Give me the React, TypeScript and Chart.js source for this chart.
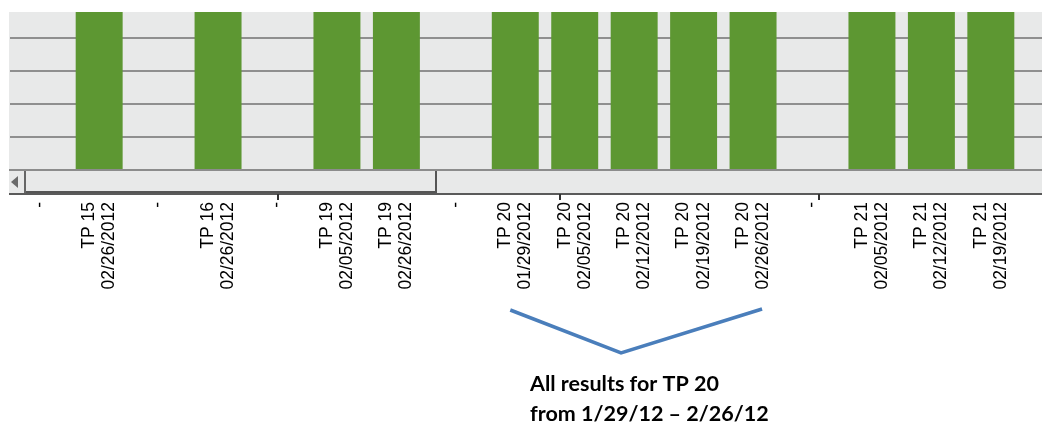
import { useEffect, useRef } from "react";
import { Chart, registerables } from "chart.js";

Chart.register(...registerables);

// ---- data ----
const tpNames = ["", "TP 15", "", "TP 16", "", "TP 19", "TP 19", "", "TP 20", "TP 20", "TP 20", "TP 20", "TP 20", "", "TP 21", "TP 21", "TP 21", ""];
const resultDates = ["", "02/26/2012", "", "02/26/2012", "", "02/05/2012", "02/26/2012", "", "01/29/2012", "02/05/2012", "02/12/2012", "02/19/2012", "02/26/2012", "", "02/05/2012", "02/12/2012", "02/19/2012", ""];
// bars run past the visible top of the (cropped) plot
const resultValues = [null, 5, null, 5, null, 5, 5, null, 5, 5, 5, 5, 5, null, 5, 5, 5, null];
const yTickValues = [0, 1, 2, 3, 4];
const yMax = 4.8;
const bracketFirstIndex = 8;
const bracketLastIndex = 12;
const annotationLines = ["All results for TP 20", "from 1/29/12 \u2013 2/26/12"];

const BAR_GREEN = "#5D9732";
const PLOT_GREY = "#E8E9E9";

const categoryLabels = tpNames.map((tp, i) => (tp ? [tp, resultDates[i]] : ["", "-"]));

const plotBackground = {
  id: "plotBackground",
  beforeDraw(chart: any) {
    const { ctx, chartArea } = chart;
    ctx.save();
    ctx.fillStyle = PLOT_GREY;
    ctx.fillRect(9, chartArea.top, chartArea.right - 9, chartArea.bottom - chartArea.top);
    ctx.restore();
  },
};

const scrollbarAndNotes = {
  id: "scrollbarAndNotes",
  afterDraw(chart: any) {
    const { ctx, chartArea, width } = chart;
    const top = chartArea.bottom;
    ctx.save();
    // track
    ctx.fillStyle = PLOT_GREY;
    ctx.fillRect(9, top, width - 9, 24);
    // top border
    ctx.fillStyle = "#8c8c8c";
    ctx.fillRect(9, top - 1, width - 9, 2);
    // bottom border
    ctx.fillStyle = "#5a5a5a";
    ctx.fillRect(9, top + 23, width - 9, 2);
    // left button separator
    ctx.fillStyle = "#666";
    ctx.fillRect(24, top + 1, 2, 22);
    // arrow
    ctx.fillStyle = "#6a6a6a";
    ctx.beginPath();
    ctx.moveTo(11, top + 12);
    ctx.lineTo(18, top + 6);
    ctx.lineTo(18, top + 18);
    ctx.closePath();
    ctx.fill();
    // thumb right & bottom shadow
    ctx.fillStyle = "#555";
    ctx.fillRect(435, top + 1, 2, 22);
    ctx.fillRect(26, top + 21, 411, 2);
    // small ticks below
    ctx.fillStyle = "#333";
    [277, 559, 818].forEach((x) => ctx.fillRect(x, top + 24, 2, 6));

    // bracket
    const xs = chart.scales.x;
    const left = xs.getPixelForTick(bracketFirstIndex) - 5;
    const right = xs.getPixelForTick(bracketLastIndex) + 9;
    const apex = left + (right - left) * 0.44;
    ctx.strokeStyle = "#4A7EBB";
    ctx.lineWidth = 3.5;
    ctx.beginPath();
    ctx.moveTo(left, 310);
    ctx.lineTo(apex, 353);
    ctx.lineTo(right, 309);
    ctx.stroke();

    // note text
    ctx.fillStyle = "#000";
    ctx.font = "bold 21.5px Lato, 'Open Sans', sans-serif";
    ctx.textAlign = "left";
    ctx.textBaseline = "alphabetic";
    ctx.fillText(annotationLines[0], 530, 391);
    ctx.fillText(annotationLines[1], 530, 421);
    ctx.restore();
  },
};

export default function App() {
  const canvasRef = useRef<HTMLCanvasElement | null>(null);

  useEffect(() => {
    if (!canvasRef.current) return;
    const chart = new Chart(canvasRef.current, {
      type: "bar",
      data: {
        labels: categoryLabels,
        datasets: [
          {
            data: resultValues as any,
            backgroundColor: BAR_GREEN,
            borderWidth: 0,
            barPercentage: 0.79,
            categoryPercentage: 1,
          },
        ],
      },
      options: {
        responsive: false,
        animation: false,
        devicePixelRatio: 1,
        layout: { padding: { left: 10, top: 12, right: 0, bottom: 0 } },
        plugins: { legend: { display: false }, tooltip: { enabled: false } },
        scales: {
          x: {
            offset: true,
            grid: { display: false, drawTicks: false },
            border: { display: false },
            ticks: {
              autoSkip: false,
              minRotation: 90,
              maxRotation: 90,
              padding: 32,
              labelOffset: -10,
              color: "#000",
              font: (ctx: any) => {
                const lbl = ctx.tick && ctx.tick.label;
                const isBlank = Array.isArray(lbl) && lbl[0] === "";
                return {
                  family: "'Liberation Sans', Arial, sans-serif",
                  size: 17.5,
                  lineHeight: isBlank ? "10px" : 1.15,
                };
              },
            },
            afterFit: (s: any) => {
              s.height = 255;
              s.paddingLeft = 0;
              s.paddingRight = 0;
            },
          },
          y: {
            min: 0,
            max: yMax,
            ticks: { display: false, stepSize: 1 },
            grid: { color: "#8f8f8f", lineWidth: 2, drawTicks: false },
            border: { display: false },
            afterBuildTicks: (s: any) => {
              s.ticks = yTickValues.map((v) => ({ value: v }));
            },
            afterFit: (s: any) => {
              s.width = 0;
              s.paddingTop = 0;
              s.paddingBottom = 0;
            },
          },
        },
      },
      plugins: [plotBackground, scrollbarAndNotes],
    });
    return () => chart.destroy();
  }, []);

  return (
    <div
      style={{
        position: "fixed",
        left: 0,
        top: 0,
        width: 1042,
        height: 425,
        overflow: "hidden",
        background: "#fff",
      }}
    >
      <canvas ref={canvasRef} width={1080} height={425} style={{ display: "block" }} />
    </div>
  );
}
